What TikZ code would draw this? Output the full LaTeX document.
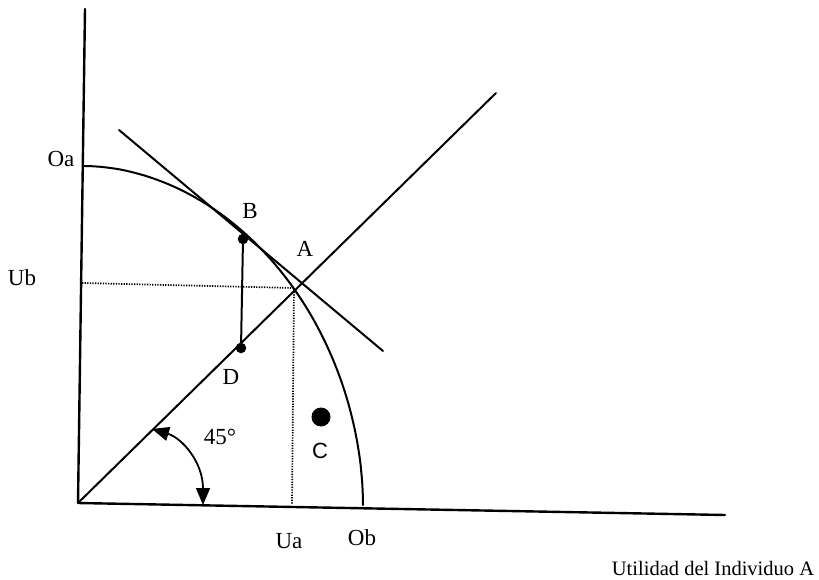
\documentclass[tikz,border=0pt]{standalone}
\usepackage{fontspec}
\setmainfont{Liberation Serif}
\newfontfamily\sanslbl{Liberation Sans}
\usetikzlibrary{arrows.meta}
\begin{document}
\begin{tikzpicture}[x=1pt,y=-1pt,line cap=round,line join=round,
  axis/.style={line width=2.4pt},
  ln/.style={line width=2pt},
  dots/.style={line width=1.7pt,dash pattern=on 1.3pt off 1.3pt,line cap=butt},
  lbl/.style={font=\fontsize{23}{26}\selectfont,inner sep=0pt},
  pt/.style={circle,fill=black,inner sep=0pt,minimum size=10.5pt},
  bigpt/.style={circle,fill=black,inner sep=0pt,minimum size=19pt}]
\useasboundingbox (0,0) rectangle (819,580);
% coordinates
\coordinate (O) at (78,503);
\coordinate (Ytop) at (85,9);
\coordinate (Xend) at (725,515);
\coordinate (Dend) at (496,93);
\coordinate (T1) at (119,130);
\coordinate (T2) at (383,351);
\coordinate (Pa) at (294,288);
\coordinate (Hl) at (82,283);
\coordinate (Vb) at (292,504);
\coordinate (Ar1) at (152,429);
\coordinate (Ar2) at (203,505);
% axes
\draw[axis] (Ytop) -- (O) -- (Xend);
% 45 degree line
\draw[ln] (O) -- (Dend);
% tangent line
\draw[ln] (T1) -- (T2);
% frontier
\draw[ln] plot[domain=89.8:0.2,samples=90]
  ({83+280*(cos(\x))^1.036},{506-340*(sin(\x))^1.036});
% dotted guides
\draw[dots] (Hl) -- (Pa) -- (Vb);
% points
\node[pt] (Bd) at (243,239) {};
\node[pt] (Dd) at (241,348) {};
\node[bigpt] (Cd) at (321,417) {};
\draw[ln] (Bd.center) -- (Dd.center);
% 45 degree arc
\draw[line width=1.8pt,{Triangle[length=17pt,width=14pt]}-{Triangle[length=17pt,width=14pt]}]
  (Ar1) .. controls (182,438) and (203,462) .. (Ar2);
% labels
\node[lbl] (Oa) at (61,159) {Oa};
\node[lbl] (Ub) at (22,278) {Ub};
\node[lbl] (Bl) at (250,211) {B};
\node[lbl] (Al) at (305,249) {A};
\node[lbl] (Dl) at (231,377) {D};
\node[lbl,font=\sanslbl\fontsize{22}{26}\selectfont] (Cl) at (320,451) {C};
\node[lbl] (ang) at (220,437) {45°};
\node[lbl] (Ua) at (289,541) {Ua};
\node[lbl] (Ob) at (362,538) {Ob};
\node[lbl,font=\fontsize{20.5}{24}\selectfont] (Ut) at (713,568) {Utilidad del Individuo A};
\end{tikzpicture}
\end{document}
